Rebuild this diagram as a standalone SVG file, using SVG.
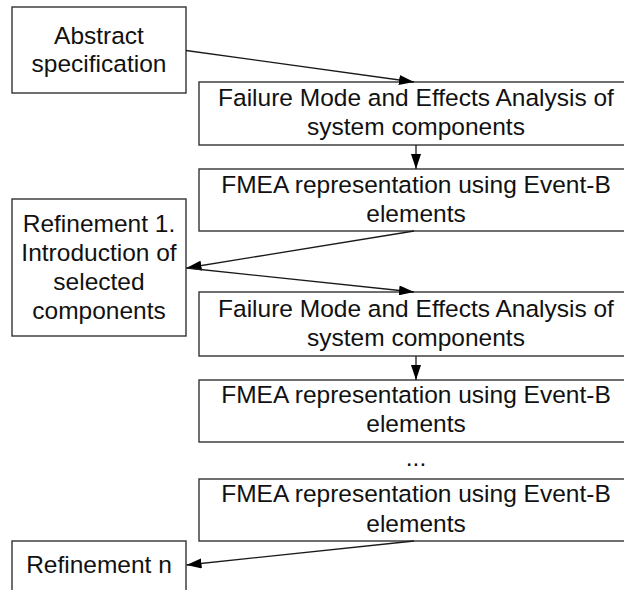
<svg xmlns="http://www.w3.org/2000/svg" width="624" height="590" viewBox="0 0 624 590">
  <style>
    .box { fill: #ffffff; stroke: #333333; stroke-width: 1.4; }
    .lbl { font-family: "Liberation Sans", Arial, sans-serif; font-size: 24.5px; fill: #111111; text-anchor: middle; }
    .edge { fill: none; stroke: #1a1a1a; stroke-width: 1.3; marker-end: url(#arrow); }
  </style>
  <defs>
    <marker id="arrow" markerUnits="userSpaceOnUse" markerWidth="16" markerHeight="10" refX="15" refY="5" orient="auto">
      <path d="M0,0 L15,5 L0,10 z" fill="#000000"/>
    </marker>
  </defs>
  <rect width="624" height="590" fill="#ffffff"/>

  <!-- left column: specification and refinements -->
  <g id="abstract-spec">
    <rect class="box" x="12" y="7" width="174" height="86"/>
    <text class="lbl" x="99" y="43.5">Abstract</text>
    <text class="lbl" x="99" y="72">specification</text>
  </g>
  <g id="refinement-1">
    <rect class="box" x="12" y="199" width="174" height="137"/>
    <text class="lbl" x="99" y="232">Refinement 1.</text>
    <text class="lbl" x="99" y="261">Introduction of</text>
    <text class="lbl" x="99" y="290">selected</text>
    <text class="lbl" x="99" y="318.5">components</text>
  </g>
  <g id="refinement-n">
    <rect class="box" x="12" y="541" width="174" height="60"/>
    <text class="lbl" x="99" y="573">Refinement n</text>
  </g>

  <!-- right column: analysis steps -->
  <g id="fmea-analysis-1">
    <rect class="box" x="199" y="82" width="440" height="63"/>
    <text class="lbl" x="416" y="106">Failure Mode and Effects Analysis of</text>
    <text class="lbl" x="416" y="135">system components</text>
  </g>
  <g id="fmea-repr-1">
    <rect class="box" x="199" y="169" width="440" height="62"/>
    <text class="lbl" x="416" y="192.5">FMEA representation using Event-B</text>
    <text class="lbl" x="416" y="221.5">elements</text>
  </g>
  <g id="fmea-analysis-2">
    <rect class="box" x="199" y="292" width="440" height="64"/>
    <text class="lbl" x="416" y="317">Failure Mode and Effects Analysis of</text>
    <text class="lbl" x="416" y="346">system components</text>
  </g>
  <g id="fmea-repr-2">
    <rect class="box" x="199" y="380" width="440" height="62"/>
    <text class="lbl" x="416" y="403">FMEA representation using Event-B</text>
    <text class="lbl" x="416" y="432">elements</text>
  </g>
  <g id="ellipsis">
    <text class="lbl" x="416" y="466">...</text>
  </g>
  <g id="fmea-repr-n">
    <rect class="box" x="199" y="479" width="440" height="62"/>
    <text class="lbl" x="416" y="502">FMEA representation using Event-B</text>
    <text class="lbl" x="416" y="531.5">elements</text>
  </g>

  <!-- connectors -->
  <g id="connectors">
    <path class="edge" d="M186,50.5 L414,82"/>
    <path class="edge" d="M416,145 L416,169"/>
    <path class="edge" d="M414,231 L186.5,268"/>
    <path class="edge" d="M186.5,268 L414,292"/>
    <path class="edge" d="M416,356 L416,380"/>
    <path class="edge" d="M414,541 L186.5,565"/>
  </g>
</svg>
